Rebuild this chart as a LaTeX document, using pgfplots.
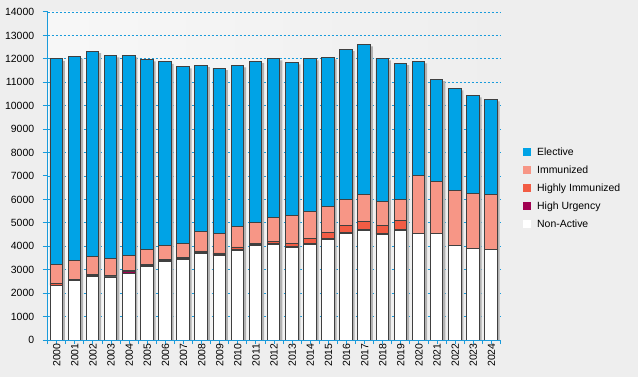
\documentclass[border=0pt]{standalone}
\usepackage{pgfplots}
\pgfplotsset{compat=1.18}
\usepackage{pgfplotstable}
\usepackage{fontspec}
\setmainfont{Liberation Sans}
\definecolor{bgc}{HTML}{EEEEEE}
\definecolor{axc}{HTML}{1A9BDB}
\definecolor{edgec}{HTML}{404040}
\definecolor{elect}{HTML}{00A3E6}
\definecolor{immun}{HTML}{F79686}
\definecolor{himm}{HTML}{F25C44}
\definecolor{hurg}{HTML}{A00050}
\pgfplotstableread{
idx year na hu hi imm el total
0 2000 2340 0 80 810 8770 12000
1 2001 2540 40 20 800 8700 12100
2 2002 2720 30 50 770 8760 12330
3 2003 2690 40 10 750 8660 12150
4 2004 2850 70 30 670 8530 12150
5 2005 3150 30 60 630 8110 11980
6 2006 3360 50 10 620 7830 11870
7 2007 3440 20 80 590 7550 11680
8 2008 3700 20 80 840 7090 11730
9 2009 3615 20 80 840 7045 11600
10 2010 3830 20 120 880 6875 11725
11 2011 4040 20 80 880 6880 11900
12 2012 4080 20 125 1010 6785 12020
13 2013 3955 20 165 1180 6530 11850
14 2014 4085 20 235 1150 6530 12020
15 2015 4300 20 275 1110 6360 12065
16 2016 4555 20 320 1110 6405 12410
17 2017 4680 20 365 1155 6400 12620
18 2018 4510 20 365 1025 6100 12020
19 2019 4680 20 410 895 5810 11815
20 2020 4555 0 0 2475 4865 11895
21 2021 4555 0 0 2215 4360 11130
22 2022 4040 0 0 2350 4355 10745
23 2023 3915 0 0 2345 4185 10445
24 2024 3870 0 0 2350 4055 10275
}\data
\begin{document}
\begin{tikzpicture}
\fill[bgc] (0,0) rectangle (638bp,377bp);
\useasboundingbox (0,0) rectangle (638bp,377bp);
% background, grid and shadows
\begin{axis}[at={(47.7bp,37bp)}, anchor=south west, scale only axis,
  width=452.8bp, height=328bp, xmin=-0.5, xmax=24.5, ymin=0, ymax=14000,
  axis line style={draw=none}, xtick=\empty, ytick={0,1000,...,14000},
  yticklabels={}, major tick length=0pt, scaled y ticks=false,
  ymajorgrids, grid style={axc, line width=0.8bp, dash pattern=on 2bp off 2bp},
  axis background/.style={left color=white!97!black, right color=bgc},
  ybar, bar width=13.4bp, bar shift=1.5bp]
\addplot[fill=black!30, draw=none, yshift=-2bp] table[x=idx,y=total]{\data};
\end{axis}
% stacked bars
\begin{axis}[at={(47.7bp,37bp)}, anchor=south west, scale only axis,
  width=452.8bp, height=328bp, xmin=-0.5, xmax=24.5, ymin=0, ymax=14000,
  axis lines*=left, axis line style={axc, line width=1bp},
  ytick={0,1000,...,14000}, ytick pos=left, scaled y ticks=false,
  xtick={-0.5,0.5,...,24.5}, xticklabels={},
  extra x ticks={0,1,...,24},
  extra x tick labels={2000,2001,2002,2003,2004,2005,2006,2007,2008,2009,2010,2011,2012,2013,2014,2015,2016,2017,2018,2019,2020,2021,2022,2023,2024},
  extra x tick style={major tick length=0pt, tick label style={rotate=90, anchor=east, font=\fontsize{10.5}{12}\selectfont}},
  tick align=outside, major tick length=5bp,
  xtick style={axc, line width=1bp, /pgfplots/major tick length=4bp},
  ytick style={axc, line width=1bp},
  yticklabel style={font=\fontsize{10.5}{12}\selectfont, xshift=-5bp},
  /pgf/number format/1000 sep={}, /pgf/number format/assume math mode=true,
  ybar stacked, bar width=12.6bp, bar shift=-0.5bp,
  legend image code/.code={\fill[#1,draw=none] (0bp,-4bp) rectangle (8bp,4bp);},
  reverse legend, legend cell align=left,
  legend style={at={(1.043,0.463)}, anchor=west, draw=none, fill=none,
    font=\fontsize{10.5}{12}\selectfont, row sep=7bp,
    nodes={inner sep=1bp},
    /tikz/every odd column/.append style={column sep=5bp}},
  every axis plot/.append style={draw=edgec, line width=0.9bp}]
\addplot[fill=white, draw=edgec] table[x=idx,y=na]{\data};
\addlegendentry{Non-Active}
\addplot[fill=hurg, draw=edgec] table[x=idx,y=hu]{\data};
\addlegendentry{High Urgency}
\addplot[fill=himm, draw=edgec] table[x=idx,y=hi]{\data};
\addlegendentry{Highly Immunized}
\addplot[fill=immun, draw=edgec] table[x=idx,y=imm]{\data};
\addlegendentry{Immunized}
\addplot[fill=elect, draw=edgec] table[x=idx,y=el]{\data};
\addlegendentry{Elective}
\end{axis}
\end{tikzpicture}
\end{document}
